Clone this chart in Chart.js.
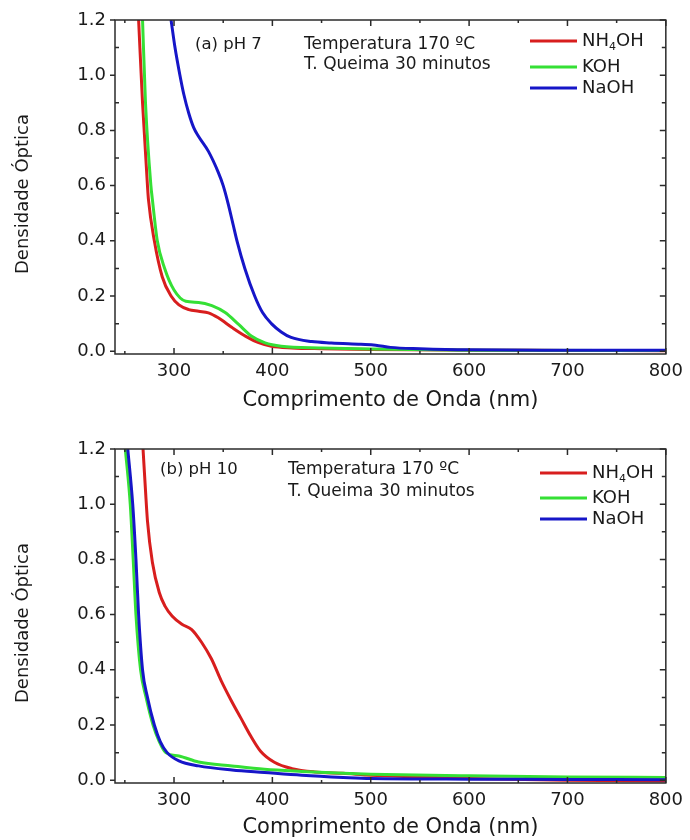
<!DOCTYPE html>
<html lang="pt">
<head>
<meta charset="UTF-8">
<title>Densidade Óptica - pH 7 e pH 10</title>
<script src="https://cdn.jsdelivr.net/npm/chart.js"></script>
<style>
  body { margin: 0; background: #fff; }
  .painel { position: absolute; left: 0; width: 690px; height: 420px; }
  #painelA { top: 0; }
  #painelB { top: 420px; }
</style>
</head>
<body>
<div class="painel" id="painelA"><canvas id="graficoA" width="690" height="420"></canvas></div>
<div class="painel" id="painelB"><canvas id="graficoB" width="690" height="420"></canvas></div>

<script>
// eixos
const xTicks = [300, 400, 500, 600, 700, 800];
const xMinor = [250, 350, 450, 550, 650, 750];
const yTicks = [0.0, 0.2, 0.4, 0.6, 0.8, 1.0, 1.2];
const yMinor = [0.1, 0.3, 0.5, 0.7, 0.9, 1.1];
const series = ['NH4OH', 'KOH', 'NaOH'];

// (a) pH 7 - comprimento de onda (nm) e densidade óptica
const nh4ohPh7Nm  = [264, 268, 273, 274, 280, 288, 297, 305, 315, 325, 335, 345, 359, 373, 386, 399, 420, 450, 500, 600, 700, 800];
const nh4ohPh7Abs = [1.2, 0.9, 0.6, 0.55, 0.4, 0.27, 0.2, 0.168, 0.151, 0.145, 0.139, 0.121, 0.086, 0.054, 0.031, 0.018, 0.012, 0.009, 0.006, 0.004, 0.003, 0.002];
const kohPh7Nm  = [268, 271, 276.5, 278, 283, 290.5, 300, 312, 325, 338.5, 352, 365.7, 379, 392.6, 409, 450, 500, 600, 800];
const kohPh7Abs = [1.2, 0.9, 0.6, 0.55, 0.4, 0.3, 0.222, 0.181, 0.177, 0.165, 0.14, 0.097, 0.054, 0.03, 0.018, 0.012, 0.008, 0.004, 0.003];
const naohPh7Nm  = [297, 301, 306, 310, 315, 320, 325, 335, 345, 350, 355, 360, 364, 372, 382, 390, 399, 409, 419, 440, 460, 490, 505, 520, 550, 600, 700, 800];
const naohPh7Abs = [1.2, 1.1, 1.0, 0.93, 0.862, 0.81, 0.778, 0.724, 0.648, 0.6, 0.535, 0.46, 0.4, 0.3, 0.2, 0.14, 0.1, 0.07, 0.05, 0.035, 0.03, 0.025, 0.022, 0.014, 0.009, 0.005, 0.004, 0.004];

// (b) pH 10
const nh4ohPh10Nm  = [268.5, 271, 273, 278, 285, 291, 298, 308, 318, 328, 338, 348, 358, 368, 378, 388, 402, 420, 443, 472, 500, 550, 600, 700, 800];
const nh4ohPh10Abs = [1.2, 1.05, 0.94, 0.79, 0.68, 0.63, 0.595, 0.565, 0.546, 0.5, 0.44, 0.36, 0.29, 0.225, 0.16, 0.105, 0.065, 0.042, 0.03, 0.025, 0.018, 0.012, 0.006, 0.0, -0.003];
const kohPh10Nm  = [250.5, 255.5, 258.5, 261.3, 266, 271.6, 278.7, 285, 291.6, 305, 325, 359, 392, 430, 472, 500, 600, 700, 800];
const kohPh10Abs = [1.2, 1.0, 0.8, 0.6, 0.4, 0.3, 0.2, 0.14, 0.1, 0.088, 0.066, 0.052, 0.04, 0.032, 0.025, 0.022, 0.016, 0.012, 0.01];
const naohPh10Nm  = [253, 258, 261.3, 264, 268, 273, 280, 286, 293, 305, 325, 359, 392, 430, 472, 500, 600, 700, 800];
const naohPh10Abs = [1.2, 1.0, 0.8, 0.6, 0.4, 0.3, 0.2, 0.14, 0.1, 0.07, 0.052, 0.037, 0.028, 0.018, 0.01, 0.006, 0.004, 0.003, 0.002];

const cores = { NH4OH: '#d81e1e', KOH: '#35e035', NaOH: '#1616c8' };

Chart.defaults.font.family = "'DejaVu Sans', 'Liberation Sans', sans-serif";
Chart.defaults.color = '#1a1a1a';

function pares(xs, ys) {
  return xs.map((v, i) => ({ x: v, y: ys[i] }));
}

// moldura com marcas de escala para dentro (estilo Origin)
const moldura = {
  id: 'moldura',
  afterDatasetsDraw(chart) {
    const { ctx, chartArea: a, scales: { x, y } } = chart;
    ctx.save();
    ctx.strokeStyle = '#2b2b2b';
    ctx.lineWidth = 1.5;
    ctx.strokeRect(a.left, a.top, a.right - a.left, a.bottom - a.top);
    ctx.beginPath();
    xTicks.forEach(v => {
      const px = x.getPixelForValue(v);
      ctx.moveTo(px, a.bottom); ctx.lineTo(px, a.bottom - 6);
      ctx.moveTo(px, a.top); ctx.lineTo(px, a.top + 6);
    });
    xMinor.forEach(v => {
      const px = x.getPixelForValue(v);
      ctx.moveTo(px, a.bottom); ctx.lineTo(px, a.bottom - 3);
      ctx.moveTo(px, a.top); ctx.lineTo(px, a.top + 3);
    });
    yTicks.forEach(v => {
      const py = y.getPixelForValue(v);
      ctx.moveTo(a.left - 5, py); ctx.lineTo(a.left, py);
      ctx.moveTo(a.right, py); ctx.lineTo(a.right - 6, py);
    });
    yMinor.forEach(v => {
      const py = y.getPixelForValue(v);
      ctx.moveTo(a.left, py); ctx.lineTo(a.left + 4, py);
      ctx.moveTo(a.right, py); ctx.lineTo(a.right - 4, py);
    });
    ctx.stroke();
    ctx.restore();
  }
};

// rótulos do painel, título vertical e legenda com subscrito
const rotulos = {
  id: 'rotulos',
  afterDraw(chart, args, opts) {
    const ctx = chart.ctx;
    const a = chart.chartArea;
    const fam = Chart.defaults.font.family;
    ctx.save();
    ctx.fillStyle = '#1a1a1a';
    ctx.textBaseline = 'middle';

    ctx.save();
    ctx.translate(23, (a.top + a.bottom) / 2 + 7);
    ctx.rotate(-Math.PI / 2);
    ctx.textAlign = 'center';
    ctx.font = '18px ' + fam;
    ctx.fillText('Densidade Óptica', 0, 0);
    ctx.restore();

    ctx.textAlign = 'left';
    ctx.font = '16.5px ' + fam;
    ctx.fillText(opts.tag, opts.tagX, opts.tagY);
    ctx.font = '17px ' + fam;
    ctx.fillText('Temperatura 170 ºC', opts.infoX, opts.infoY[0]);
    ctx.fillText('T. Queima 30 minutos', opts.infoX, opts.infoY[1]);

    series.forEach((nome, i) => {
      const ly = opts.legY[i];
      ctx.strokeStyle = cores[nome];
      ctx.lineWidth = 3;
      ctx.beginPath();
      ctx.moveTo(opts.legX, ly);
      ctx.lineTo(opts.legX + 47, ly);
      ctx.stroke();
      let tx = opts.legX + 52;
      ctx.font = '18px ' + fam;
      if (nome === 'NH4OH') {
        ctx.fillText('NH', tx, ly);
        tx += ctx.measureText('NH').width;
        ctx.font = '11px ' + fam;
        ctx.fillText('4', tx, ly + 6);
        tx += ctx.measureText('4').width;
        ctx.font = '18px ' + fam;
        ctx.fillText('OH', tx, ly);
      } else {
        ctx.fillText(nome, tx, ly);
      }
    });
    ctx.restore();
  }
};

function criarGrafico(id, dados, topo, alturaX, tituloPad, decor) {
  const ordem = { NaOH: 0, KOH: 1, NH4OH: 2 };
  return new Chart(document.getElementById(id), {
    type: 'scatter',
    data: {
      datasets: series.map((nome, i) => ({
        label: nome,
        data: dados[i],
        showLine: true,
        borderColor: cores[nome],
        borderWidth: 3,
        pointRadius: 0,
        cubicInterpolationMode: 'monotone',
        order: ordem[nome]
      }))
    },
    options: {
      responsive: false,
      animation: false,
      events: [],
      layout: { padding: { top: topo, right: 20, left: 0, bottom: 0 } },
      scales: {
        x: {
          type: 'linear',
          min: 240,
          max: 800,
          afterBuildTicks: s => { s.ticks = xTicks.map(v => ({ value: v })); },
          afterFit: s => { s.height = alturaX; },
          grid: { display: false, drawTicks: false },
          border: { display: false },
          ticks: { font: { size: 18 }, padding: 7, maxRotation: 0 },
          title: {
            display: true,
            text: 'Comprimento de Onda (nm)',
            font: { size: 21 },
            padding: { top: 0, bottom: tituloPad }
          }
        },
        y: {
          type: 'linear',
          min: -0.01,
          max: 1.2,
          afterBuildTicks: s => { s.ticks = yTicks.map(v => ({ value: v })); },
          afterFit: s => { s.width = 115; },
          grid: { display: false, drawTicks: false },
          border: { display: false },
          ticks: { font: { size: 18 }, padding: 9, callback: v => v.toFixed(1) },
          title: { display: false }
        }
      },
      plugins: {
        legend: { display: false },
        tooltip: { enabled: false },
        rotulos: decor
      }
    },
    plugins: [moldura, rotulos]
  });
}

criarGrafico('graficoA', [
  pares(nh4ohPh7Nm, nh4ohPh7Abs),
  pares(kohPh7Nm, kohPh7Abs),
  pares(naohPh7Nm, naohPh7Abs)
], 20, 66, 7, {
  tag: '(a) pH 7', tagX: 195, tagY: 45,
  infoX: 304, infoY: [45, 65],
  legX: 530, legY: [41, 67, 88]
});

criarGrafico('graficoB', [
  pares(nh4ohPh10Nm, nh4ohPh10Abs),
  pares(kohPh10Nm, kohPh10Abs),
  pares(naohPh10Nm, naohPh10Abs)
], 29, 57, 0, {
  tag: '(b) pH 10', tagX: 160, tagY: 50,
  infoX: 288, infoY: [50, 72],
  legX: 540, legY: [53, 78, 99]
});
</script>
</body>
</html>
